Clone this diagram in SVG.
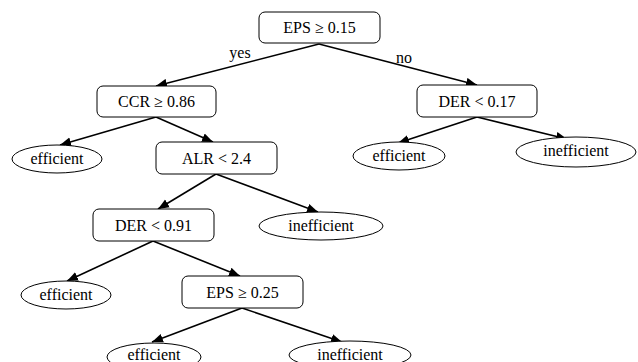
<svg xmlns="http://www.w3.org/2000/svg" width="638" height="362" viewBox="0 0 638 362">
<style>
.box{fill:#fff;stroke:#000;stroke-width:1}
.leaf{fill:#fff;stroke:#000;stroke-width:1}
.t{font-family:"Liberation Serif","Times New Roman",serif;font-size:16px;fill:#000;text-anchor:middle}
.e{stroke:#000;stroke-width:1.6;fill:none;marker-end:url(#ah)}
</style>
<defs>
<marker id="ah" markerUnits="userSpaceOnUse" markerWidth="12" markerHeight="10" refX="11" refY="5" orient="auto">
<path d="M0,0.5 L11,5 L0,9.5 Z" fill="#000"/>
</marker>
</defs>
<rect width="638" height="362" fill="#fff"/>
<g id="edges">
<line class="e" x1="319" y1="44" x2="156" y2="86"/>
<line class="e" x1="319" y1="44" x2="477" y2="85"/>
<line class="e" x1="156" y1="117" x2="60" y2="145"/>
<line class="e" x1="156" y1="117" x2="213" y2="142"/>
<line class="e" x1="216" y1="174" x2="158" y2="209"/>
<line class="e" x1="216" y1="174" x2="318" y2="212"/>
<line class="e" x1="477" y1="117" x2="398" y2="143"/>
<line class="e" x1="477" y1="117" x2="567" y2="139"/>
<line class="e" x1="153" y1="241" x2="67" y2="281"/>
<line class="e" x1="153" y1="241" x2="240" y2="276"/>
<line class="e" x1="242" y1="308" x2="152" y2="342"/>
<line class="e" x1="242" y1="308" x2="342" y2="342"/>
<text class="t" x="240" y="58">yes</text>
<text class="t" x="404" y="63">no</text>
</g>
<g id="n_root"><rect class="box" x="259" y="12" width="121" height="31" rx="6"/><text class="t" x="319.5" y="33">EPS ≥ 0.15</text></g>
<g id="n_ccr"><rect class="box" x="97" y="86" width="119" height="31" rx="6"/><text class="t" x="156.5" y="107">CCR ≥ 0.86</text></g>
<g id="n_der017"><rect class="box" x="417" y="85" width="120" height="32" rx="6"/><text class="t" x="477" y="107">DER &lt; 0.17</text></g>
<g id="n_eff1"><ellipse class="leaf" cx="57" cy="159" rx="45" ry="14"/><text class="t" x="57" y="164">efficient</text></g>
<g id="n_alr"><rect class="box" x="156" y="142" width="121" height="32" rx="6"/><text class="t" x="216.5" y="164">ALR &lt; 2.4</text></g>
<g id="n_eff2"><ellipse class="leaf" cx="399" cy="156" rx="46" ry="14"/><text class="t" x="399" y="161">efficient</text></g>
<g id="n_ineff1"><ellipse class="leaf" cx="576" cy="152" rx="60" ry="15"/><text class="t" x="576" y="156">inefficient</text></g>
<g id="n_der091"><rect class="box" x="93" y="209" width="121" height="32" rx="6"/><text class="t" x="153.5" y="231">DER &lt; 0.91</text></g>
<g id="n_ineff2"><ellipse class="leaf" cx="321" cy="226" rx="62" ry="14"/><text class="t" x="321" y="231">inefficient</text></g>
<g id="n_eff3"><ellipse class="leaf" cx="66" cy="295" rx="45" ry="14"/><text class="t" x="66" y="300">efficient</text></g>
<g id="n_eps025"><rect class="box" x="182" y="276" width="121" height="32" rx="6"/><text class="t" x="242.5" y="298">EPS ≥ 0.25</text></g>
<g id="n_eff4"><ellipse class="leaf" cx="154" cy="357" rx="47" ry="14"/><text class="t" x="154" y="360">efficient</text></g>
<g id="n_ineff3"><ellipse class="leaf" cx="350" cy="355" rx="61" ry="14"/><text class="t" x="350" y="360">inefficient</text></g>
</svg>
